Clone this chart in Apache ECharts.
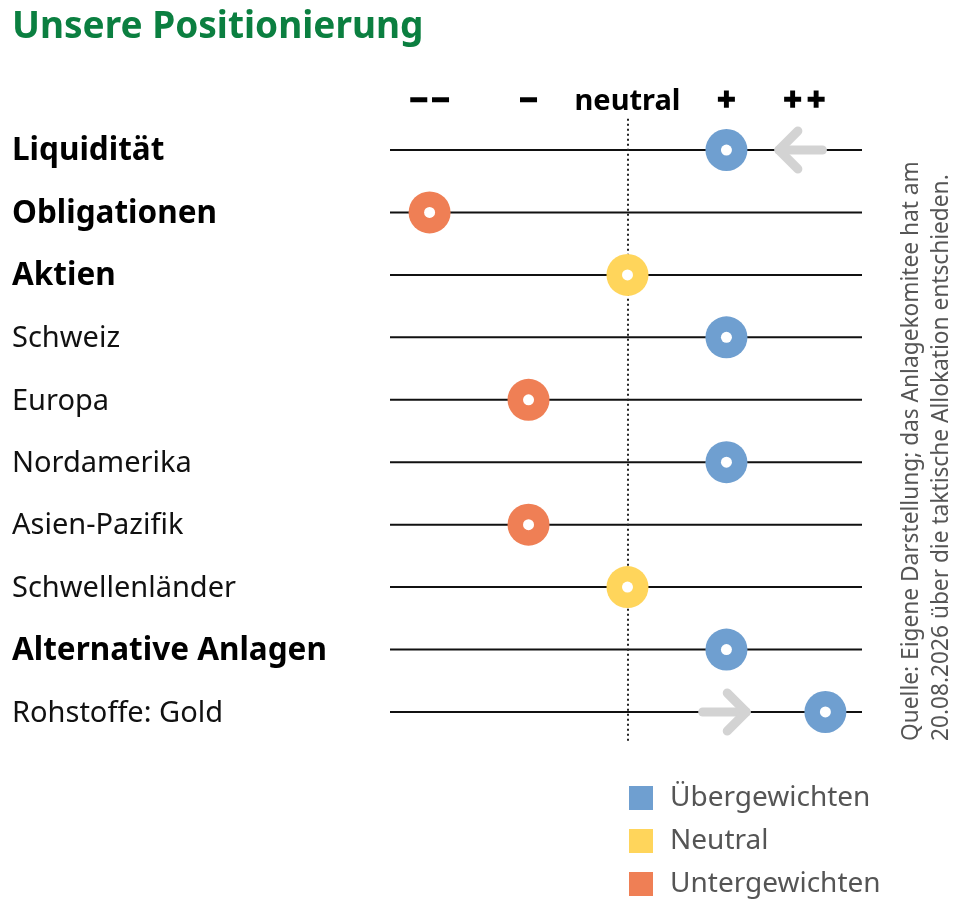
<!DOCTYPE html>
<html>
<head>
<meta charset="utf-8">
<script src="https://cdn.jsdelivr.net/npm/echarts@6/dist/echarts.min.js"></script>
<style>
  html, body { margin: 0; padding: 0; background: #fff; }
  #main { width: 960px; height: 914px; }
</style>
</head>
<body>
<div id="main"></div>
<script>
// Kategorien (von oben nach unten)
var categories = ['Liquidität', 'Obligationen', 'Aktien', 'Schweiz', 'Europa',
  'Nordamerika', 'Asien-Pazifik', 'Schwellenländer', 'Alternative Anlagen', 'Rohstoffe: Gold'];
// Hauptkategorien fett
var headline = [true, true, true, false, false, false, false, false, true, false];
// Positionierung: -2 = --, -1 = -, 0 = neutral, 1 = +, 2 = ++
var positions = [1, -2, 0, 1, -1, 1, -1, 0, 1, 2];
// Veränderungspfeile (Zeile, von, bis)
var arrowRows = [0, 9];
var arrowFrom = [1.97, 0.76];
var arrowTo = [1.53, 1.2];
// Skala oben
var tickValues = [-2, -1, 0, 1, 2];
var tickLabels = ['−\u200A−', '−', 'neutral', '+', '+\u2009+'];
// Legende
var legendNames = ['Übergewichten', 'Neutral', 'Untergewichten'];
var legendColors = ['#6f9fd0', '#ffd55b', '#ef7f55'];

var FONT = 'Noto Sans';

function classOf(v) {
  if (v > 0) return 0;
  if (v === 0) return 1;
  return 2;
}

var myChart = echarts.init(document.getElementById('main'));

var dotSeries = legendNames.map(function (name, k) {
  var pts = [];
  positions.forEach(function (v, i) {
    if (classOf(v) === k) pts.push([v, i]);
  });
  return {
    name: name,
    type: 'scatter',
    symbol: 'circle',
    symbolSize: 42,
    itemStyle: { color: legendColors[k], opacity: 1 },
    z: 5,
    silent: true,
    data: pts
  };
});

var symStyle = { fontSize: 32, fontWeight: 'bold', color: '#000', fontFamily: FONT,
  textBorderColor: '#000', textBorderWidth: 1.5 };

var option = {
  animation: false,
  backgroundColor: '#fff',
  title: {
    text: 'Unsere Positionierung',
    left: 7,
    top: 4,
    textStyle: { color: '#0b7f40', fontSize: 37, fontWeight: 'bold', fontFamily: FONT }
  },
  legend: {
    orient: 'vertical',
    left: 624,
    top: 779,
    icon: 'rect',
    itemWidth: 24,
    itemHeight: 24,
    itemGap: 15,
    selectedMode: false,
    data: legendNames,
    textStyle: { fontSize: 28, color: '#555', fontFamily: FONT, padding: [0, 0, 0, 12] }
  },
  grid: { left: 390, right: 98, top: 118.8, bottom: 170.8 },
  xAxis: {
    type: 'value',
    position: 'top',
    min: -2.4,
    max: 2.37,
    axisLine: { show: false },
    axisTick: { show: false },
    splitLine: { show: false },
    axisLabel: {
      customValues: tickValues,
      margin: 1,
      formatter: function (v) {
        var i = tickValues.indexOf(v);
        if (i < 0) return '';
        if (i === 2) return '{n|' + tickLabels[i] + '}';
        return i === 4 ? '{pp|' + tickLabels[i] + '}' : '{s|' + tickLabels[i] + '}';
      },
      rich: {
        n: { fontSize: 29, fontWeight: 'bold', color: '#000', fontFamily: FONT, padding: [0, 0, 2, 0] },
        s: symStyle,
        pp: echarts.util.extend({ padding: [0, 42, 0, 0] }, symStyle)
      }
    }
  },
  yAxis: {
    type: 'category',
    data: categories,
    inverse: true,
    axisLine: { show: false },
    axisTick: { show: false },
    splitLine: { show: false },
    axisLabel: {
      margin: 378,
      align: 'left',
      formatter: function (v, i) {
        return headline[i] ? '{b|' + v + '}' : '{r|' + v + '}';
      },
      rich: {
        b: { fontSize: 31.5, fontWeight: 'bold', color: '#000', fontFamily: FONT, padding: [3, 0, 0, 0] },
        r: { fontSize: 29, color: '#111', fontFamily: FONT, padding: [3, 0, 0, 0] }
      }
    }
  },
  graphic: [
    {
      type: 'text', x: 900, y: 741, rotation: Math.PI / 2,
      style: { text: 'Quelle: Eigene Darstellung; das Anlagekomitee hat am', fill: '#555',
        font: '22.7px "' + FONT + '"', textAlign: 'left', textVerticalAlign: 'top' }
    },
    {
      type: 'text', x: 930, y: 741, rotation: Math.PI / 2,
      style: { text: '20.08.2026 über die taktische Allokation entschieden.', fill: '#555',
        font: '22.7px "' + FONT + '"', textAlign: 'left', textVerticalAlign: 'top' }
    }
  ],
  series: [
    {
      // horizontale Linien je Zeile + gepunktete Neutral-Linie
      type: 'custom',
      silent: true,
      z: 1,
      data: categories.map(function (c, i) { return [i]; }),
      renderItem: function (params, api) {
        var y = api.coord([0, api.value(0)])[1];
        var cs = params.coordSys;
        return {
          type: 'line',
          shape: { x1: cs.x, y1: y, x2: cs.x + cs.width, y2: y },
          style: { stroke: '#111', lineWidth: 2 }
        };
      },
      markLine: {
        silent: true,
        symbol: ['none', 'none'],
        label: { show: false },
        lineStyle: { color: '#222', width: 2, type: [2, 3] },
        data: [{ xAxis: 0 }]
      }
    },
    {
      // graue Pfeile
      type: 'custom',
      silent: true,
      z: 3,
      data: arrowRows.map(function (r, k) { return [arrowFrom[k], arrowTo[k], r]; }),
      renderItem: function (params, api) {
        var p0 = api.coord([api.value(0), api.value(2)]);
        var p1 = api.coord([api.value(1), api.value(2)]);
        var d = p1[0] > p0[0] ? 1 : -1;
        var st = { stroke: '#d3d3d3', lineWidth: 9, lineCap: 'round', lineJoin: 'round', fill: null };
        return {
          type: 'group',
          children: [
            { type: 'line', shape: { x1: p0[0], y1: p0[1], x2: p1[0], y2: p1[1] }, style: st },
            { type: 'polyline', shape: { points: [[p1[0] - d * 19, p1[1] - 19], [p1[0], p1[1]], [p1[0] - d * 19, p1[1] + 19]] }, style: st }
          ]
        };
      }
    }
  ].concat(dotSeries).concat([
    {
      // weisser Punkt in der Mitte
      type: 'scatter',
      symbol: 'circle',
      symbolSize: 11,
      silent: true,
      z: 6,
      itemStyle: { color: '#fff', opacity: 1 },
      data: positions.map(function (v, i) { return [v, i]; })
    }
  ])
};

myChart.setOption(option);
</script>
</body>
</html>
